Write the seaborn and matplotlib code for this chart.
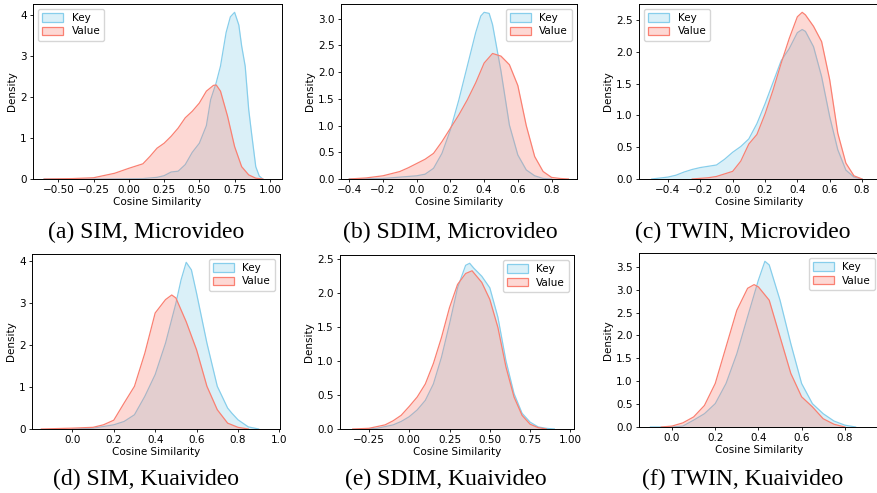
import matplotlib
matplotlib.use('Agg')
import matplotlib.pyplot as plt
import seaborn as sns
from matplotlib.patches import Patch
from matplotlib.ticker import MultipleLocator

# density curves (x = cosine similarity, y = density)
a_key_x = [-0.60, -0.20, 0.10, 0.20, 0.25, 0.30, 0.35, 0.40, 0.45, 0.50, 0.55, 0.58, 0.62, 0.65, 0.69, 0.72, 0.75, 0.78, 0.80, 0.825, 0.85, 0.87, 0.90, 0.925, 0.95]
a_key_y = [0.00, 0.00, 0.01, 0.04, 0.08, 0.17, 0.19, 0.35, 0.65, 0.87, 1.30, 1.93, 2.35, 2.75, 3.57, 3.95, 4.06, 3.75, 3.24, 2.75, 1.69, 1.12, 0.30, 0.07, 0.00]
a_val_x = [-0.60, -0.40, -0.25, -0.10, 0.00, 0.10, 0.15, 0.20, 0.25, 0.30, 0.35, 0.40, 0.45, 0.50, 0.55, 0.60, 0.62, 0.65, 0.70, 0.75, 0.80, 0.85, 0.90, 0.95]
a_val_y = [0.00, 0.01, 0.03, 0.14, 0.26, 0.37, 0.55, 0.75, 0.87, 1.04, 1.24, 1.49, 1.65, 1.85, 2.14, 2.28, 2.29, 2.14, 1.53, 0.79, 0.30, 0.10, 0.02, 0.00]

b_key_x = [-0.40, -0.20, 0.00, 0.05, 0.10, 0.15, 0.20, 0.25, 0.30, 0.35, 0.38, 0.40, 0.43, 0.45, 0.50, 0.55, 0.60, 0.65, 0.70, 0.75, 0.80]
b_key_y = [0.00, 0.01, 0.06, 0.09, 0.20, 0.48, 0.92, 1.48, 2.11, 2.74, 3.05, 3.12, 3.10, 2.89, 2.02, 1.01, 0.45, 0.17, 0.06, 0.01, 0.00]
b_val_x = [-0.40, -0.30, -0.20, -0.10, -0.05, 0.00, 0.05, 0.10, 0.15, 0.20, 0.25, 0.30, 0.35, 0.40, 0.45, 0.50, 0.55, 0.60, 0.65, 0.70, 0.75, 0.80, 0.85, 0.90]
b_val_y = [0.00, 0.02, 0.06, 0.14, 0.21, 0.29, 0.37, 0.48, 0.70, 0.95, 1.20, 1.48, 1.80, 2.17, 2.35, 2.30, 2.14, 1.75, 1.00, 0.42, 0.14, 0.03, 0.01, 0.00]

c_key_x = [-0.50, -0.40, -0.35, -0.30, -0.25, -0.20, -0.15, -0.10, -0.05, 0.00, 0.05, 0.10, 0.15, 0.20, 0.25, 0.30, 0.35, 0.40, 0.43, 0.45, 0.50, 0.55, 0.60, 0.65, 0.70, 0.75, 0.80]
c_key_y = [0.00, 0.03, 0.06, 0.11, 0.15, 0.18, 0.20, 0.22, 0.31, 0.42, 0.51, 0.63, 0.87, 1.18, 1.52, 1.86, 2.05, 2.30, 2.35, 2.32, 2.08, 1.61, 0.98, 0.46, 0.14, 0.03, 0.00]
c_val_x = [-0.25, -0.15, -0.10, -0.05, 0.00, 0.05, 0.10, 0.15, 0.20, 0.25, 0.30, 0.35, 0.40, 0.43, 0.45, 0.50, 0.55, 0.60, 0.65, 0.70, 0.75, 0.80]
c_val_y = [0.00, 0.02, 0.04, 0.08, 0.12, 0.28, 0.55, 0.70, 1.02, 1.40, 1.82, 2.21, 2.55, 2.62, 2.58, 2.40, 2.16, 1.56, 0.72, 0.25, 0.05, 0.00]

d_key_x = [0.00, 0.10, 0.20, 0.25, 0.30, 0.35, 0.40, 0.45, 0.50, 0.525, 0.55, 0.575, 0.60, 0.65, 0.70, 0.75, 0.77, 0.80, 0.85, 0.90]
d_key_y = [0.00, 0.02, 0.10, 0.18, 0.34, 0.78, 1.30, 2.05, 3.00, 3.56, 3.98, 3.80, 3.24, 2.05, 1.02, 0.50, 0.38, 0.22, 0.05, 0.00]
d_val_x = [-0.15, 0.00, 0.10, 0.15, 0.20, 0.25, 0.30, 0.35, 0.40, 0.45, 0.48, 0.50, 0.55, 0.60, 0.65, 0.70, 0.75, 0.80, 0.85]
d_val_y = [0.00, 0.02, 0.04, 0.10, 0.21, 0.62, 1.02, 1.81, 2.77, 3.09, 3.20, 3.13, 2.56, 1.89, 1.02, 0.46, 0.14, 0.04, 0.00]

e_key_x = [-0.30, -0.20, -0.10, -0.05, 0.00, 0.05, 0.10, 0.15, 0.20, 0.25, 0.30, 0.35, 0.375, 0.40, 0.45, 0.50, 0.55, 0.60, 0.65, 0.70, 0.75, 0.80, 0.85, 0.90]
e_key_y = [0.00, 0.01, 0.06, 0.11, 0.18, 0.28, 0.42, 0.66, 1.05, 1.54, 2.07, 2.40, 2.43, 2.36, 2.24, 2.07, 1.64, 1.00, 0.52, 0.23, 0.10, 0.03, 0.01, 0.00]
e_val_x = [-0.35, -0.25, -0.15, -0.10, -0.05, 0.00, 0.05, 0.10, 0.15, 0.20, 0.25, 0.30, 0.35, 0.39, 0.45, 0.50, 0.55, 0.60, 0.65, 0.70, 0.75, 0.80, 0.85]
e_val_y = [0.00, 0.01, 0.06, 0.12, 0.20, 0.33, 0.47, 0.66, 0.96, 1.34, 1.78, 2.12, 2.28, 2.32, 2.15, 1.90, 1.49, 0.91, 0.47, 0.20, 0.07, 0.02, 0.00]

f_key_x = [-0.10, 0.00, 0.05, 0.10, 0.15, 0.20, 0.25, 0.30, 0.35, 0.40, 0.43, 0.45, 0.50, 0.55, 0.60, 0.65, 0.70, 0.75, 0.80, 0.85]
f_key_y = [0.00, 0.00, 0.02, 0.15, 0.29, 0.51, 0.95, 1.60, 2.41, 3.21, 3.62, 3.54, 2.77, 1.82, 0.95, 0.51, 0.29, 0.13, 0.04, 0.00]
f_val_x = [-0.05, 0.00, 0.05, 0.10, 0.15, 0.20, 0.25, 0.30, 0.35, 0.38, 0.40, 0.45, 0.50, 0.55, 0.60, 0.65, 0.70, 0.75, 0.80]
f_val_y = [0.00, 0.02, 0.09, 0.22, 0.47, 0.95, 1.75, 2.55, 3.03, 3.11, 3.06, 2.77, 1.97, 1.17, 0.66, 0.44, 0.18, 0.06, 0.00]

captions = ['(a) SIM, Microvideo', '(b) SDIM, Microvideo', '(c) TWIN, Microvideo',
            '(d) SIM, Kuaivideo', '(e) SDIM, Kuaivideo', '(f) TWIN, Kuaivideo']
series_names = ['Key', 'Value']

KEY_C = 'skyblue'
VAL_C = 'salmon'
W, H = 878, 493

fig = plt.figure(figsize=(W / 100, H / 100), dpi=100)
plt.rcParams['font.family'] = ['DejaVu Sans']

# panel boxes in pixels: left, right, top, bottom
boxes = [(33, 282, 4, 179), (341, 577, 4, 179), (639, 880, 4, 179),
         (32, 280, 254, 429), (340, 574, 255, 429), (639, 880, 253, 427)]
xlims = [(-0.679, 1.086), (-0.449, 0.951), (-0.579, 0.911),
         (-0.195, 1.003), (-0.429, 1.022), (-0.153, 0.963)]
xsteps = [0.25, 0.2, 0.2, 0.2, 0.25, 0.2]
ysteps = [1, 0.5, 0.5, 1, 0.5, 0.5]
legend_locs = ['upper left', 'upper right', 'upper left', 'upper right', 'upper right', 'upper right']
data = [(a_key_x, a_key_y, a_val_x, a_val_y), (b_key_x, b_key_y, b_val_x, b_val_y),
        (c_key_x, c_key_y, c_val_x, c_val_y), (d_key_x, d_key_y, d_val_x, d_val_y),
        (e_key_x, e_key_y, e_val_x, e_val_y), (f_key_x, f_key_y, f_val_x, f_val_y)]

for i, (kx, ky, vx, vy) in enumerate(data):
    l, r, t, b = boxes[i]
    ax = fig.add_axes([l / W, 1 - b / H, (r - l) / W, (b - t) / H])
    ax.fill_between(kx, ky, color=KEY_C, alpha=0.3, linewidth=0, zorder=1)
    sns.lineplot(x=kx, y=ky, ax=ax, color=KEY_C, linewidth=0.9, zorder=1.1)
    ax.fill_between(vx, vy, color=VAL_C, alpha=0.3, linewidth=0, zorder=1.2)
    sns.lineplot(x=vx, y=vy, ax=ax, color=VAL_C, linewidth=0.9, zorder=1.3)

    ax.set_xlim(*xlims[i])
    ax.set_ylim(0, max(max(ky), max(vy)) * 1.05)
    ax.xaxis.set_major_locator(MultipleLocator(xsteps[i]))
    ax.yaxis.set_major_locator(MultipleLocator(ysteps[i]))
    ax.tick_params(labelsize=7.5, length=2.5, width=0.6, pad=2)
    ax.set_xlabel('Cosine Similarity', fontsize=7.5, labelpad=1)
    ax.set_ylabel('Density', fontsize=7.5, labelpad=2)
    for s in ax.spines.values():
        s.set_linewidth(0.7)

    handles = [Patch(facecolor=KEY_C, edgecolor=KEY_C, alpha=None, linewidth=0.9),
               Patch(facecolor=VAL_C, edgecolor=VAL_C, linewidth=0.9)]
    handles[0].set_facecolor((*matplotlib.colors.to_rgb(KEY_C), 0.3))
    handles[1].set_facecolor((*matplotlib.colors.to_rgb(VAL_C), 0.3))
    ax.legend(handles, series_names, loc=legend_locs[i], fontsize=7.5,
              handlelength=2.0, handleheight=0.9, borderpad=0.4, labelspacing=0.3)

# captions under each panel
cap_x = [146, 450, 743, 146, 446, 743]
cap_y = [232, 232, 232, 479, 479, 479]
for txt, cx, cy in zip(captions, cap_x, cap_y):
    fig.text(cx / W, 1 - cy / H, txt, ha='center', va='center',
             fontsize=17, family='Liberation Serif')

fig.savefig('out.png', dpi=100)
